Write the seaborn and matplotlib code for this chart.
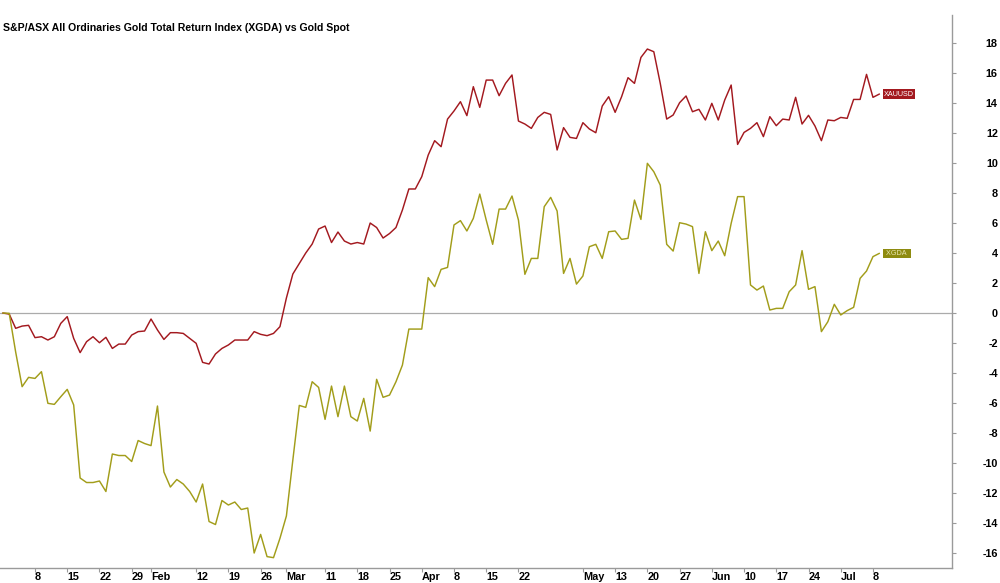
import numpy as np
import pandas as pd
import matplotlib
matplotlib.use("Agg")
import matplotlib.pyplot as plt
import seaborn as sns

# ---------------- data ----------------
title = "S&P/ASX All Ordinaries Gold Total Return Index (XGDA) vs Gold Spot"
start_date = "2024-01-01"
end_date = "2024-07-09"

xauusd = [
    0.00, -0.07, -1.02, -0.87, -0.82,
    -1.64, -1.58, -1.80, -1.58, -0.69,
    -0.24, -1.69, -2.64, -1.91, -1.58,
    -1.98, -1.62, -2.36, -2.07, -2.07,
    -1.47, -1.24, -1.20, -0.40, -1.13,
    -1.76, -1.31, -1.31, -1.36, -1.69,
    -2.02, -3.29, -3.40, -2.73, -2.36,
    -2.13, -1.80, -1.80, -1.80, -1.24,
    -1.42, -1.51, -1.36, -0.91, 1.00,
    2.60, 3.30, 4.00, 4.60, 5.60,
    5.80, 4.70, 5.40, 4.80, 4.60,
    4.70, 4.60, 6.00, 5.70, 5.00,
    5.30, 5.70, 6.87, 8.27, 8.27,
    9.09, 10.53, 11.49, 11.09, 12.93,
    13.47, 14.09, 13.16, 15.09, 13.71,
    15.53, 15.53, 14.49, 15.31, 15.87,
    12.80, 12.60, 12.31, 13.04, 13.38,
    13.24, 10.87, 12.36, 11.71, 11.64,
    12.69, 12.27, 12.02, 13.80, 14.42,
    13.38, 14.42, 15.69, 15.31, 17.04,
    17.60, 17.42, 15.31, 12.93, 13.20,
    14.02, 14.47, 13.42, 13.58, 12.87,
    13.98, 12.87, 14.20, 15.20, 11.24,
    12.04, 12.31, 12.69, 11.76, 13.09,
    12.49, 12.93, 12.87, 14.38, 12.60,
    13.18, 12.47, 11.49, 12.87, 12.82,
    13.04, 12.98, 14.24, 14.24, 15.91,
    14.38, 14.60,
]

xgda = [
    0.00, -0.02, -2.60, -4.91, -4.29,
    -4.36, -3.91, -6.02, -6.09, -5.58,
    -5.09, -6.13, -11.00, -11.30, -11.30,
    -11.20, -11.90, -9.40, -9.50, -9.50,
    -9.90, -8.50, -8.70, -8.84, -6.20,
    -10.60, -11.60, -11.10, -11.40, -11.90,
    -12.60, -11.40, -13.90, -14.10, -12.50,
    -12.80, -12.60, -13.10, -13.00, -16.00,
    -14.76, -16.24, -16.31, -15.02, -13.53,
    -9.80, -6.16, -6.29, -4.58, -4.96,
    -7.09, -4.87, -6.91, -4.87, -6.91,
    -7.20, -5.69, -7.87, -4.42, -5.62,
    -5.47, -4.58, -3.47, -1.07, -1.07,
    -1.07, 2.36, 1.76, 2.91, 3.04,
    5.87, 6.16, 5.47, 6.31, 7.93,
    6.20, 4.58, 6.93, 6.93, 7.80,
    6.20, 2.58, 3.64, 3.64, 7.09,
    7.71, 6.80, 2.64, 3.64, 1.93,
    2.47, 4.42, 4.58, 3.64, 5.42,
    5.47, 4.91, 4.98, 7.53, 6.24,
    9.98, 9.42, 8.53, 4.58, 4.13,
    6.02, 5.93, 5.76, 2.64, 5.42,
    4.16, 4.80, 3.82, 5.98, 7.76,
    7.76, 1.87, 1.53, 1.80, 0.20,
    0.31, 0.31, 1.42, 1.87, 4.16,
    1.58, 1.76, -1.24, -0.58, 0.58,
    -0.13, 0.16, 0.38, 2.31, 2.80,
    3.76, 3.98,
]

tick_dates = [
    "2024-01-08", "2024-01-15", "2024-01-22", "2024-01-29", "2024-02-01",
    "2024-02-12", "2024-02-19", "2024-02-26", "2024-03-01", "2024-03-11",
    "2024-03-18", "2024-03-25", "2024-04-01", "2024-04-08", "2024-04-15",
    "2024-04-22", "2024-05-06", "2024-05-13", "2024-05-20", "2024-05-27",
    "2024-06-03", "2024-06-10", "2024-06-17", "2024-06-24", "2024-07-01",
    "2024-07-08",
]
tick_labels = [
    "8", "15", "22", "29", "Feb", "12", "19", "26", "Mar", "11", "18", "25",
    "Apr", "8", "15", "22", "May", "13", "20", "27", "Jun", "10", "17", "24",
    "Jul", "8",
]
y_ticks = list(range(-16, 19, 2))
series_names = ["XAUUSD", "XGDA"]

# ---------------- styling ----------------
RED = "#A3191F"
OLIVE = "#A29D1A"
OLIVE_BOX = "#8E8B10"
GRAY = "#9A9A9A"

dates = pd.bdate_range(start_date, end_date)
pos = np.arange(len(dates))
n = len(dates)
df = pd.DataFrame({
    "pos": np.concatenate([pos, pos]),
    "value": xauusd + xgda,
    "series": [series_names[0]] * n + [series_names[1]] * n,
})

sns.set_theme(style="white")
plt.rcParams["font.family"] = ["Liberation Sans Narrow", "Liberation Sans", "DejaVu Sans"]

fig = plt.figure(figsize=(10, 5.83), dpi=100)
ax = fig.add_axes([0.0, 0.0257, 0.952, 0.9486])

ax.axhline(0, color="#ABABAB", lw=0.9, zorder=0)
sns.lineplot(data=df, x="pos", y="value", hue="series",
             palette={"XAUUSD": RED, "XGDA": OLIVE},
             linewidth=1.05, ax=ax, legend=False)

ax.set_xlim(-0.43, 147.26)
ax.set_ylim(-17.0, 19.87)
ax.set_xlabel("")
ax.set_ylabel("")

for s in ["left", "top"]:
    ax.spines[s].set_visible(False)
for s in ["right", "bottom"]:
    ax.spines[s].set_color(GRAY)
    ax.spines[s].set_linewidth(1.0)

# x ticks
tick_pos = [dates.get_loc(pd.Timestamp(d)) for d in tick_dates]
ax.set_xticks(tick_pos)
ax.set_xticklabels(tick_labels, fontsize=7.8, fontweight="bold", ha="left")
ax.tick_params(axis="x", direction="out", length=3, color=GRAY, width=0.8,
               pad=0, bottom=True, labelcolor="black")

# y ticks on right, right-aligned labels
ax.yaxis.tick_right()
ax.set_yticks(y_ticks)
ax.set_yticklabels([str(v) for v in y_ticks], fontsize=7.8, fontweight="bold")
ax.tick_params(axis="y", direction="out", length=3, width=0.8, color=GRAY,
               pad=30, right=True, left=False, labelcolor="black")
for lbl in ax.get_yticklabels():
    lbl.set_ha("right")

ax.grid(False)

# end labels
ax.annotate("XAUUSD", xy=(pos[-1], xauusd[-1]), xytext=(3, 0),
            textcoords="offset points", va="center", ha="left",
            fontsize=5.2, color="white",
            bbox=dict(boxstyle="square,pad=0.15", facecolor=RED, edgecolor="none"))
ax.annotate(" XGDA  ", xy=(pos[-1], xgda[-1]), xytext=(3, 0),
            textcoords="offset points", va="center", ha="left",
            fontsize=5.2, color="#E8E6B0",
            bbox=dict(boxstyle="square,pad=0.15", facecolor=OLIVE_BOX, edgecolor="none"))

fig.text(0.003, 1 - 28 / 583, title, fontsize=7.6, fontweight="bold",
         va="center", ha="left", color="black")

fig.savefig("out.png", dpi=100, facecolor="white")
